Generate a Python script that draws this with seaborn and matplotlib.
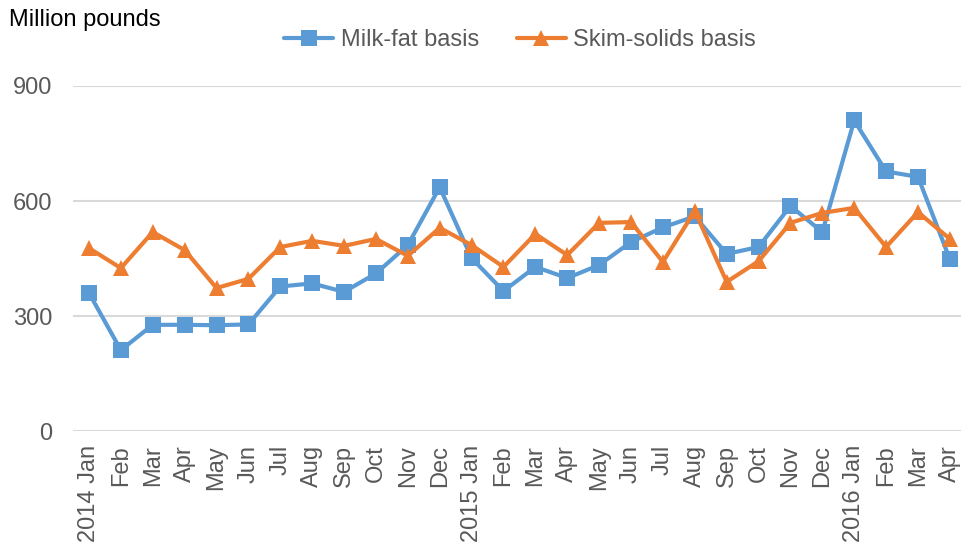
import matplotlib
matplotlib.use("Agg")
import matplotlib.pyplot as plt
import seaborn as sns
import pandas as pd

# Monthly data, Jan 2014 - Apr 2016 (million pounds)
months = ["2014 Jan", "Feb", "Mar", "Apr", "May", "Jun", "Jul", "Aug", "Sep", "Oct", "Nov", "Dec",
          "2015 Jan", "Feb", "Mar", "Apr", "May", "Jun", "Jul", "Aug", "Sep", "Oct", "Nov", "Dec",
          "2016 Jan", "Feb", "Mar", "Apr"]
milk_fat = [360, 211, 277, 277, 276, 278, 377, 385, 363, 411, 485, 636,
            451, 365, 428, 399, 433, 493, 531, 560, 462, 480, 587, 519,
            810, 677, 663, 448]
skim_solids = [477, 425, 519, 472, 373, 397, 480, 496, 483, 501, 457, 530,
               485, 428, 514, 459, 543, 545, 441, 574, 389, 443, 543, 569,
               582, 480, 571, 501]

sns.set_theme(style="white")
plt.rcParams["font.family"] = ["Liberation Sans", "DejaVu Sans"]

df = pd.DataFrame({
    "pos": list(range(len(months))) * 2,
    "value": milk_fat + skim_solids,
    "series": ["Milk-fat basis"] * len(months) + ["Skim-solids basis"] * len(months),
})

fig = plt.figure(figsize=(9.61, 5.46), dpi=100)
ax = fig.add_axes([0.076, 0.2106, 0.929, 0.6319])

palette = {"Milk-fat basis": "#5b9bd5", "Skim-solids basis": "#ed7d31"}
markers = {"Milk-fat basis": "s", "Skim-solids basis": "^"}
sns.lineplot(data=df, x="pos", y="value", hue="series", style="series",
             palette=palette, markers=markers, dashes=False,
             linewidth=3, markersize=11, markeredgewidth=0, ax=ax)

ax.set_xlim(-0.5, len(months) - 0.5)
ax.set_ylim(0, 900)
ax.set_yticks([0, 300, 600, 900])
ax.set_xticks(range(len(months)))
ax.set_xticklabels(months, rotation=90, va="top", ha="center")
ax.tick_params(axis="both", length=0, labelsize=17, colors="#595959")
ax.tick_params(axis="y", pad=15)
ax.tick_params(axis="x", pad=10)
ax.set_xlabel("")
ax.set_ylabel("")
ax.grid(axis="y", color="#d9d9d9", linewidth=1.5)
ax.set_axisbelow(True)
for s in ax.spines.values():
    s.set_visible(False)

fig.text(0.009, 0.963, "Million pounds", fontsize=17, color="black", va="center", ha="left")

leg = ax.legend(loc="center", ncol=2, frameon=False,
                fontsize=17, handlelength=2.1, columnspacing=1.6, handletextpad=0.3,
                bbox_to_anchor=(0.541, 0.927), bbox_transform=fig.transFigure)
for t in leg.get_texts():
    t.set_color("#595959")

fig.savefig("out.png", dpi=100)
